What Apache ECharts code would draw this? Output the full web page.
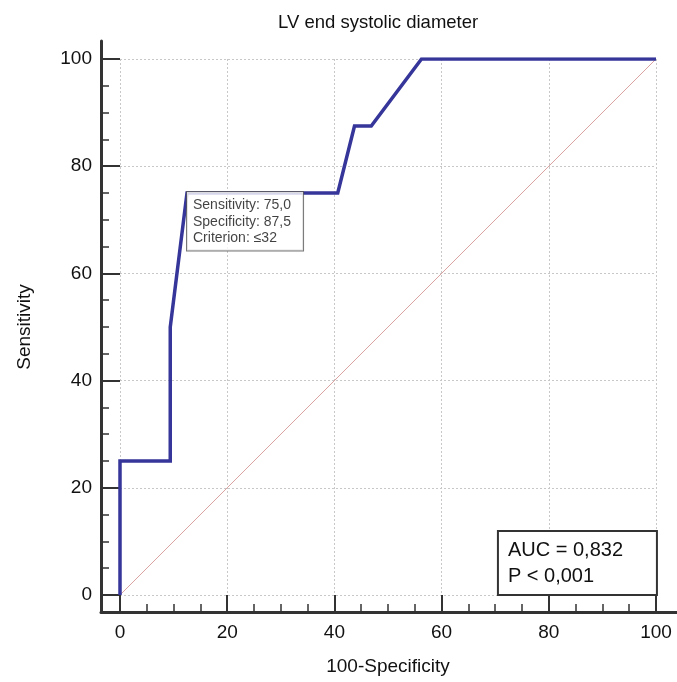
<!DOCTYPE html>
<html>
<head>
<meta charset="utf-8">
<script src="https://cdn.jsdelivr.net/npm/echarts@6/dist/echarts.min.js"></script>
<style>html,body{margin:0;padding:0;background:#fff}#c{width:677px;height:682px}</style>
</head>
<body>
<div id="c"></div>
<script>
// ROC curve points (100-Specificity, Sensitivity)
const rocX = [0, 0, 9.375, 9.375, 12.5, 40.625, 43.75, 46.875, 56.25, 100];
const rocY = [0, 25, 25, 50, 75, 75, 87.5, 87.5, 100, 100];
const diagX = [0, 100];
const diagY = [0, 100];
const cutX = [12.5];
const cutY = [75];
const cutText = ['Sensitivity: 75,0', 'Specificity: 87,5', 'Criterion: \u226432'];
const xTicks = [0, 20, 40, 60, 80, 100];
const yTicks = [0, 20, 40, 60, 80, 100];
const aucText = ['AUC = 0,832', 'P < 0,001'];

const FONT = '"Liberation Sans", Arial, sans-serif';
const chart = echarts.init(document.getElementById('c'), null, {renderer: 'canvas'});

const majorAxis = (extra, tickLen) => Object.assign({
  type: 'value', min: 0, max: 100, interval: 20, gridIndex: 0,
  axisLine: {show: false, onZero: false},
  axisTick: {show: true, inside: true, length: tickLen, lineStyle: {color: '#333', width: 2}},
  minorTick: {show: true, splitNumber: 4, length: 8, lineStyle: {color: '#333', width: 1.5}},
  splitLine: {show: true, lineStyle: {color: '#c8c8c8', width: 1, type: [2, 2]}},
  minorSplitLine: {show: false},
  nameTextStyle: {color: '#111', fontSize: 19, fontFamily: FONT}
}, extra);

const frameAxis = (extra) => Object.assign({
  type: 'value', gridIndex: 1, min: 0, max: 1,
  axisLine: {show: true, onZero: false, lineStyle: {color: '#333', width: 3}},
  axisTick: {show: false}, axisLabel: {show: false}, splitLine: {show: false}
}, extra);

chart.setOption({
  animation: false,
  backgroundColor: '#fff',
  title: [
    {text: 'LV end systolic diameter', left: 273, top: 8,
     textStyle: {fontSize: 18.5, fontWeight: 'normal', color: '#111', fontFamily: FONT}},
    {text: aucText.join('\n'), right: 20, bottom: 87,
     borderColor: '#333', borderWidth: 2, backgroundColor: '#fff',
     padding: [6, 34, 6, 10],
     textStyle: {fontSize: 20, fontWeight: 'normal', color: '#111', fontFamily: FONT, lineHeight: 26}}
  ],
  grid: [
    {left: 120, right: 21, top: 59, bottom: 87, containLabel: false, outerBoundsMode: 'none'},
    {left: 101, right: 0, top: 41, bottom: 70, containLabel: false, outerBoundsMode: 'none'}
  ],
  xAxis: [
    majorAxis({position: 'bottom', offset: 17, name: '100-Specificity', nameLocation: 'middle', nameGap: 45,
      axisLabel: {color: '#111', fontSize: 19, fontFamily: FONT, margin: 11}}, 17),
    frameAxis({position: 'bottom'})
  ],
  yAxis: [
    majorAxis({position: 'left', offset: 19, name: 'Sensitivity', nameLocation: 'middle', nameGap: 67, nameRotate: 90,
      axisLabel: {color: '#111', fontSize: 19, fontFamily: FONT, margin: 9}}, 19),
    frameAxis({position: 'left'})
  ],
  series: [
    {type: 'line', xAxisIndex: 0, yAxisIndex: 0, data: diagX.map((x, i) => [x, diagY[i]]),
     symbol: 'none', lineStyle: {color: '#d9a3a3', width: 1}, z: 2, silent: true},
    {type: 'line', xAxisIndex: 0, yAxisIndex: 0, data: rocX.map((x, i) => [x, rocY[i]]),
     symbol: 'none', lineStyle: {color: '#35359a', width: 3.5, join: 'miter'}, z: 3, silent: true},
    {type: 'scatter', xAxisIndex: 0, yAxisIndex: 0, data: cutX.map((x, i) => [x, cutY[i]]),
     symbolSize: 0, z: 5, silent: true,
     label: {show: true, position: [0, -1], formatter: () => cutText.join('\n'),
       color: '#111', fontSize: 14, fontFamily: FONT, lineHeight: 16.5,
       backgroundColor: '#fff', borderColor: '#555', borderWidth: 1, padding: [5, 12, 4, 6]}}
  ]
});
</script>
</body>
</html>
